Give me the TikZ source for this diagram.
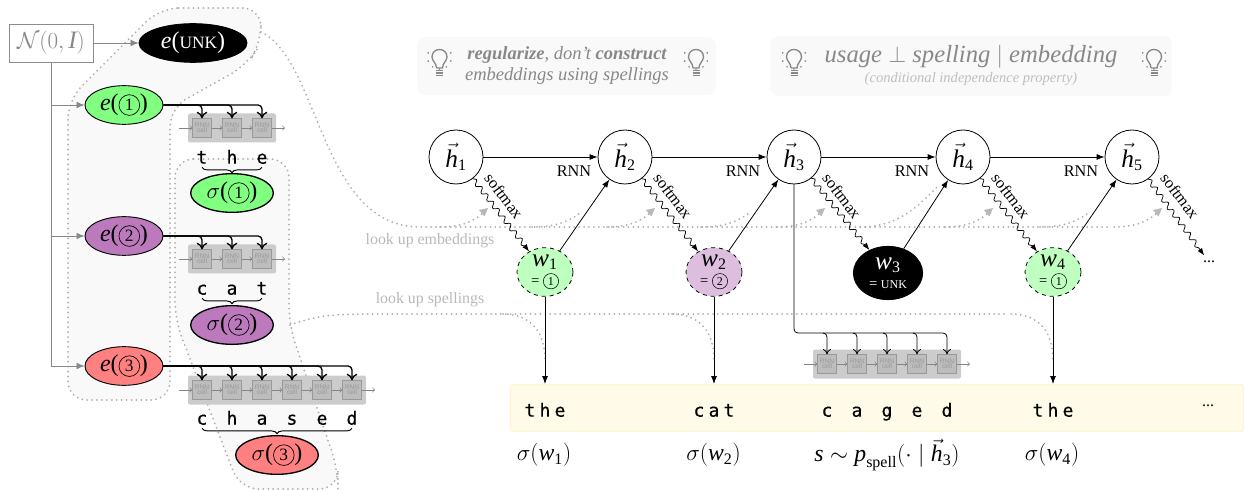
\documentclass[tikz,border=0pt]{standalone}
\usepackage{amsmath}
\usepackage{fontspec}
\setmainfont{Liberation Serif}
\newfontfamily\charfont[FakeBold=0.5]{DejaVu Sans Mono}
\setsansfont{Liberation Sans}
\usetikzlibrary{shapes.geometric,decorations.pathmorphing,decorations.pathreplacing,arrows.meta}

\definecolor{wordgreen}{HTML}{80FF80}
\definecolor{wordpurple}{HTML}{BC7ABC}
\definecolor{wordred}{HTML}{FF8080}
\definecolor{softgreen}{HTML}{BFFFBF}
\definecolor{softpurple}{HTML}{DEBEDE}
\definecolor{barfill}{HTML}{FFFBE8}
\definecolor{barline}{HTML}{FCF6D6}
\definecolor{tipgray}{HTML}{888888}

\newcommand{\mi}[1]{\text{\itshape #1}}
\newcommand{\cnum}[1]{\tikz[baseline=(cn.base)]\node[circle, draw=black, solid, line width=0.5pt, inner sep=0pt, minimum size=15.5pt, font=\fontsize{13}{13}\selectfont] (cn) {#1};}
\newcommand{\cnumsmall}[1]{\tikz[baseline=(cn.base)]\node[circle, draw=black, solid, line width=0.4pt, inner sep=0pt, minimum size=11.5pt, font=\fontsize{9}{9}\selectfont] (cn) {#1};}
\newcommand{\subnum}[1]{\text{\fontsize{12}{12}\selectfont #1}}
\newcommand{\wordtext}[2]{$\mi{w}_{\subnum{#1}}$\\[-3pt]{\fontsize{11}{11}\selectfont = #2}}
\newcommand{\cellrow}[4]{
    \fill[rnnback] ({#3-14},{#2-14.5}) rectangle ({#3+30*(#4-1)+14},{#2+14.5});
    \foreach \i in {1,...,#4}
        \node[rnncell] (#1\i) at ({#3+30*(\i-1)},#2) {RNN\\[-1.5pt]cell};
    \coordinate (#1in) at ({#3-23},#2);
    \coordinate (#1out) at ({#3+30*(#4-1)+23},#2);
    \foreach \i [remember=\i as \p (initially in)] in {1,...,#4}
        \draw[rnnflow] (#1\p) -- (#1\i);
    \draw[rnnflow] (#1#4) -- (#1out);
}

\begin{document}
\begin{tikzpicture}
[
    x=0.75pt, y=-0.75pt,
    embed/.style={ellipse, draw=black, line width=0.7pt, inner sep=0pt, minimum width=58.5pt, minimum height=29pt, font=\fontsize{18}{20}\selectfont},
    spell/.style={embed, line width=1pt, minimum width=62pt},
    hidden/.style={circle, draw=black, line width=0.6pt, inner sep=0pt, minimum size=40.5pt, font=\fontsize{19}{20}\selectfont},
    word/.style={ellipse, draw=black, line width=0.6pt, dashed, align=center, inner sep=0pt, minimum width=42pt, minimum height=36.5pt, font=\fontsize{19}{17}\selectfont},
    rnnback/.style={fill=black!20, rounded corners=1.5pt},
    rnncell/.style={draw=black!40, fill=black!26, line width=0.7pt, align=center, inner sep=0pt, minimum size=13.8pt, text=black!40, font=\sffamily\fontsize{5}{5}\selectfont},
    rnnflow/.style={draw=black!48, line width=0.5pt, -to},
    feed/.style={draw=black, line width=1pt, rounded corners=3pt, -{To[length=5pt,width=8pt]}},
    feedthin/.style={draw=black, line width=0.6pt, rounded corners=3pt, -{To[length=4pt,width=6pt]}},
    letter/.style={inner sep=0pt, text height=10pt, text depth=0pt, font=\charfont\fontsize{13.5}{13.5}\selectfont},
    spellbrace/.style={draw=black, line width=0.7pt, decorate, decoration={brace, mirror, amplitude=4pt}},
    blob/.style={fill=black!2.5, rounded corners=14pt},
    dotline/.style={draw=black!32, line width=1.5pt, line cap=round, dash pattern=on 0pt off 3.7pt},
    prior/.style={draw=tipgray, line width=0.6pt, -{Latex[length=6pt,width=5pt]}},
    rnnstep/.style={draw=black, line width=0.6pt, -{Latex[length=6pt,width=4.5pt]}},
    softstep/.style={draw=black, line width=0.55pt, decorate, decoration={snake, amplitude=1.8pt, segment length=7pt, post length=4pt}, -{Latex[length=5.5pt,width=4pt]}},
    wavetext/.style={inner sep=0pt, rotate=-53, font=\fontsize{12.2}{12}\selectfont},
    steptext/.style={inner sep=0pt, font=\fontsize{12.2}{12}\selectfont},
    faint/.style={inner sep=0pt, text=black!28, font=\fontsize{11.9}{12}\selectfont},
    tipbox/.style={fill=black!2.5, rounded corners=6pt},
    tiptext/.style={inner sep=0pt, align=center, text=tipgray},
    result/.style={inner sep=0pt, font=\fontsize{17.8}{18}\selectfont},
    bulb/.pic={
        \draw[tipgray, line width=1pt] (-3,6) -- (3,6) .. controls (3,1) and (7.5,-1) .. (7.5,-5) .. controls (7.5,-15) and (-7.5,-15) .. (-7.5,-5) .. controls (-7.5,-1) and (-3,1) .. (-3,6);
        \foreach \j in {8.5,11,13.5}
            \draw[tipgray, line width=1.3pt] (-3.5,\j) -- (3.5,\j);
        \foreach \a in {-20,20,160,200,55,125,90}
            \fill[tipgray] ([shift={(0,-5)}]\a:12) circle (0.7pt);
    },
]
\useasboundingbox (0,0) rectangle (1244,491);

\draw[blob, dotline, fill=black!2.5] (160,8) -- (261,8) -- (261,43) -- (247,65) -- (170,108) -- (170,400) -- (68,400) -- (68,100) -- cycle;
\draw[blob, dotline, fill=black!2.5] (175,159) -- (289,159) -- (289,325) -- (338,470) -- (338,489) -- (240,489) -- (175,320) -- cycle;

\node[tipbox, minimum width=224pt, minimum height=43.5pt] (tipa) at (566.5,66) {};
\node[tipbox, minimum width=301pt, minimum height=45pt] (tipb) at (971,66) {};
\pic at (439.5,62) {bulb};
\pic at (696,62) {bulb};
\pic at (794,62) {bulb};
\pic at (1154,62) {bulb};
\node[tiptext, font=\fontsize{13.9}{15.7}\selectfont\itshape] (tipatext) at (567,65.5) {\textbf{regularize}, don't \textbf{construct}\\embeddings using spellings};
\node[tiptext, font=\fontsize{18.5}{20}\selectfont\itshape] (tipbtext) at (971,57) {usage $\perp$ spelling $|$ embedding};
\node[tiptext, text=black!25, font=\fontsize{10.9}{11}\selectfont\itshape] (tipbnote) at (971,79) {(conditional independence property)};

\node[draw=black!45, line width=0.6pt, text=tipgray, inner sep=0pt, minimum width=63pt, minimum height=28.5pt, font=\fontsize{18.8}{20}\selectfont] (noise) at (51,43) {$\mathcal{N}(0,\mi{I})$};
\node[embed, fill=black, text=white, minimum width=81pt] (eunk) at (193,43) {\mi{e}({\fontsize{13}{13}\selectfont UNK})};
\node[embed, fill=wordgreen] (eone) at (124,105) {\mi{e}(\cnum{1})};
\node[embed, fill=wordpurple] (etwo) at (124,236) {\mi{e}(\cnum{2})};
\node[embed, fill=wordred] (ethree) at (124,366) {\mi{e}(\cnum{3})};

\draw[prior] (noise) -- (eunk);
\draw[prior] (noise) |- (eone);
\draw[prior] (noise) |- (etwo);
\draw[prior] (noise) |- (ethree);

\cellrow{ra}{128}{202}{3}
\cellrow{rb}{259}{202}{3}
\cellrow{rc}{390}{202}{6}
\cellrow{rd}{364}{827}{5}

\foreach \i/\c in {1/t,2/h,3/e}
    \node[letter] (la\i) at ({202+30*(\i-1)},157) {\c};
\foreach \i/\c in {1/c,2/a,3/t}
    \node[letter] (lb\i) at ({202+30*(\i-1)},288) {\c};
\foreach \i/\c in {1/c,2/h,3/a,4/s,5/e,6/d}
    \node[letter] (lc\i) at ({202+30*(\i-1)},418) {\c};

\foreach \i in {1,2,3} {
    \draw[feed] (eone.east) -| (ra\i.north);
    \draw[feed] (etwo.east) -| (rb\i.north);
}
\foreach \i in {1,...,6}
    \draw[feed] (ethree.east) -| (rc\i.north);

\draw[spellbrace] ([yshift=-2.5pt]la1.south) -- ([yshift=-2.5pt]la3.south);
\draw[spellbrace] ([yshift=-2.5pt]lb1.south) -- ([yshift=-2.5pt]lb3.south);
\draw[spellbrace] ([yshift=-2.5pt]lc1.south) -- ([yshift=-2.5pt]lc6.south);

\node[spell, fill=wordgreen] (sone) at (232,193) {$\sigma$(\cnum{1})};
\node[spell, fill=wordpurple] (stwo) at (232,325) {$\sigma$(\cnum{2})};
\node[spell, fill=wordred] (sthree) at (277,455) {$\sigma$(\cnum{3})};

\draw[dotline] (261,32) .. controls (320,60) and (320,227) .. (420,227) -- (1110,227);
\foreach \i/\x in {1/488,2/655,3/825,4/993,5/1162} {
    \coordinate (up\i) at (\x,208);
    \draw[dotline] (\x-48,227) .. controls (\x-25,227) and (\x-12,221) .. (up\i);
    \fill[black!28] (up\i) -- ++(-9,2) -- ++(5.5,6.5) -- cycle;
}
\foreach \x in {580,749,1088}
    \draw[dotline] (\x-48,227) .. controls (\x-25,227) and (\x-12,222) .. (\x,213);
\draw[dotline] (860,227) .. controls (895,227) and (915,210) .. (937,187);
\draw[dotline] (290,325) .. controls (320,314) and (340,314) .. (380,314) -- (1005,314);
\foreach \x in {545,714,1053}
    \draw[dotline] (\x-42,314) .. controls (\x-18,314) and (\x,328) .. (\x,360);

\node[faint] (lookemb) at (430,241) {look up embeddings};
\node[faint] (lookspell) at (430,300) {look up spellings};

\foreach \i/\x in {1/456,2/625,3/794,4/963,5/1132}
    \node[hidden] (h\i) at (\x,157) {$\vec{\mi{h}}_{\subnum{\i}}$};

\node[word, fill=softgreen] (w1) at (545,272) {\wordtext{1}{\cnumsmall{1}}};
\node[word, fill=softpurple] (w2) at (714,272) {\wordtext{2}{\cnumsmall{2}}};
\node[word, fill=black, text=white, solid, minimum width=52pt, minimum height=40pt] (w3) at (888,273) {\wordtext{3}{{\fontsize{9}{9}\selectfont UNK}}};
\node[word, fill=softgreen] (w4) at (1053,272) {\wordtext{4}{\cnumsmall{1}}};
\node[inner sep=4pt, font=\fontsize{12}{12}\selectfont] (dots) at (1209,262) {...};

\foreach \a/\b in {1/2,2/3,3/4,4/5} {
    \draw[rnnstep] (h\a) -- (h\b);
    \draw[rnnstep] (w\a) -- (h\b);
}
\foreach \a in {1,2,3,4} {
    \draw[softstep] (h\a) -- (w\a);
    \node[wavetext] (soft\a) at ([shift={(48,39)}]h\a) {softmax};
    \node[steptext] (step\a) at ([shift={(118,14)}]h\a) {RNN};
}
\draw[softstep] (h5) -- (dots);
\node[wavetext] (soft5) at ([shift={(48,39)}]h5) {softmax};

\coordinate (rdturn) at (794,333);
\draw[feedthin] (h3) -- (rdturn) -| (rd5.north);
\foreach \i in {1,...,4}
    \draw[feedthin] ([xshift=-3pt]rd\i.north |- rdturn) -| (rd\i.north);

\node[fill=barfill, draw=barline, line width=1pt, rounded corners=2pt, minimum width=550pt, minimum height=35pt, inner sep=0pt] (bar) at (877,408) {};
\foreach \i/\c in {1/t,2/h,3/e} {
    \node[letter] (ba\i) at ({530+15*(\i-1)},410) {\c};
    \node[letter] (bd\i) at ({1038+15*(\i-1)},410) {\c};
}
\foreach \i/\c in {1/c,2/a,3/t}
    \node[letter] (bb\i) at ({699+15*(\i-1)},410) {\c};
\foreach \i/\c in {1/c,2/a,3/g,4/e,5/d}
    \node[letter] (bc\i) at ({827+30*(\i-1)},410) {\c};
\node[inner sep=0pt, font=\fontsize{12}{12}\selectfont] (bardots) at (1208,406) {...};

\draw[rnnstep] (w1) -- (w1 |- bar.north);
\draw[rnnstep] (w2) -- (w2 |- bar.north);
\draw[rnnstep] (w4) -- (w4 |- bar.north);

\node[result] (sw1) at (544,455) {$\sigma(\mi{w}_{\subnum{1}})$};
\node[result] (sw2) at (713.5,455) {$\sigma(\mi{w}_{\subnum{2}})$};
\node[result] (sw3) at (887,455) {$\mi{s}\sim\mi{p}_{\subnum{spell}}(\cdot\mid\vec{\mi{h}}_{\subnum{3}})$};
\node[result] (sw4) at (1052,455) {$\sigma(\mi{w}_{\subnum{4}})$};

\end{tikzpicture}
\end{document}
